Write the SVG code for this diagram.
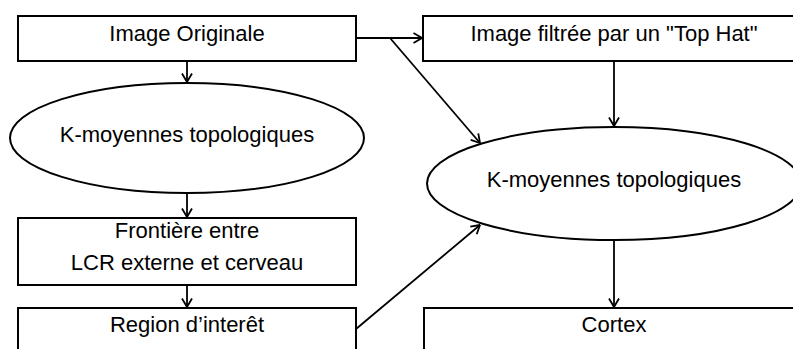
<svg xmlns="http://www.w3.org/2000/svg" width="793" height="349" viewBox="0 0 793 349">
<defs>
<style>
.box{fill:#fff;stroke:#000;stroke-width:2}
.ell{fill:#fff;stroke:#000;stroke-width:2}
.lbl{font-family:"Liberation Sans",Arial,sans-serif;font-size:22px;fill:#000;text-anchor:middle}
.con{fill:none;stroke:#000;stroke-width:1.8;marker-end:url(#arr)}
</style>
<marker id="arr" viewBox="0 0 10 12" refX="9.5" refY="6" markerWidth="10" markerHeight="12" markerUnits="userSpaceOnUse" orient="auto">
<path d="M1,1 L9.5,6 L1,11" fill="none" stroke="#000" stroke-width="1.8"/>
</marker>
</defs>
<rect width="793" height="349" fill="#fff"/>
<g id="connectors">
<line class="con" x1="187" y1="61" x2="187" y2="82"/>
<line class="con" x1="187" y1="193" x2="187" y2="217"/>
<line class="con" x1="187" y1="285" x2="187" y2="307"/>
<line class="con" x1="356" y1="38" x2="422" y2="38"/>
<line class="con" x1="390" y1="38" x2="480" y2="143"/>
<line class="con" x1="614" y1="61" x2="614" y2="126"/>
<line class="con" x1="614" y1="240" x2="614" y2="307"/>
<line class="con" x1="356" y1="329" x2="480" y2="225"/>
</g>
<g id="n1"><rect class="box" x="18" y="16" width="338" height="45"/><text class="lbl" x="187" y="41">Image Originale</text></g>
<g id="n2"><ellipse class="ell" cx="187" cy="138" rx="177" ry="55"/><text class="lbl" x="187" y="142">K-moyennes topologiques</text></g>
<g id="n3"><rect class="box" x="18" y="218" width="338" height="67"/><text class="lbl" x="187" y="238">Frontière entre</text><text class="lbl" x="187" y="270">LCR externe et cerveau</text></g>
<g id="n4"><rect class="box" x="18" y="308" width="338" height="60"/><text class="lbl" x="187" y="332">Region d’interêt</text></g>
<g id="n5"><rect class="box" x="423" y="16" width="382" height="45"/><text class="lbl" x="614" y="41">Image filtrée par un "Top Hat"</text></g>
<g id="n6"><ellipse class="ell" cx="614" cy="183.5" rx="187" ry="56.5"/><text class="lbl" x="614" y="187">K-moyennes topologiques</text></g>
<g id="n7"><rect class="box" x="424" y="308" width="381" height="60"/><text class="lbl" x="614" y="332">Cortex</text></g>
</svg>
